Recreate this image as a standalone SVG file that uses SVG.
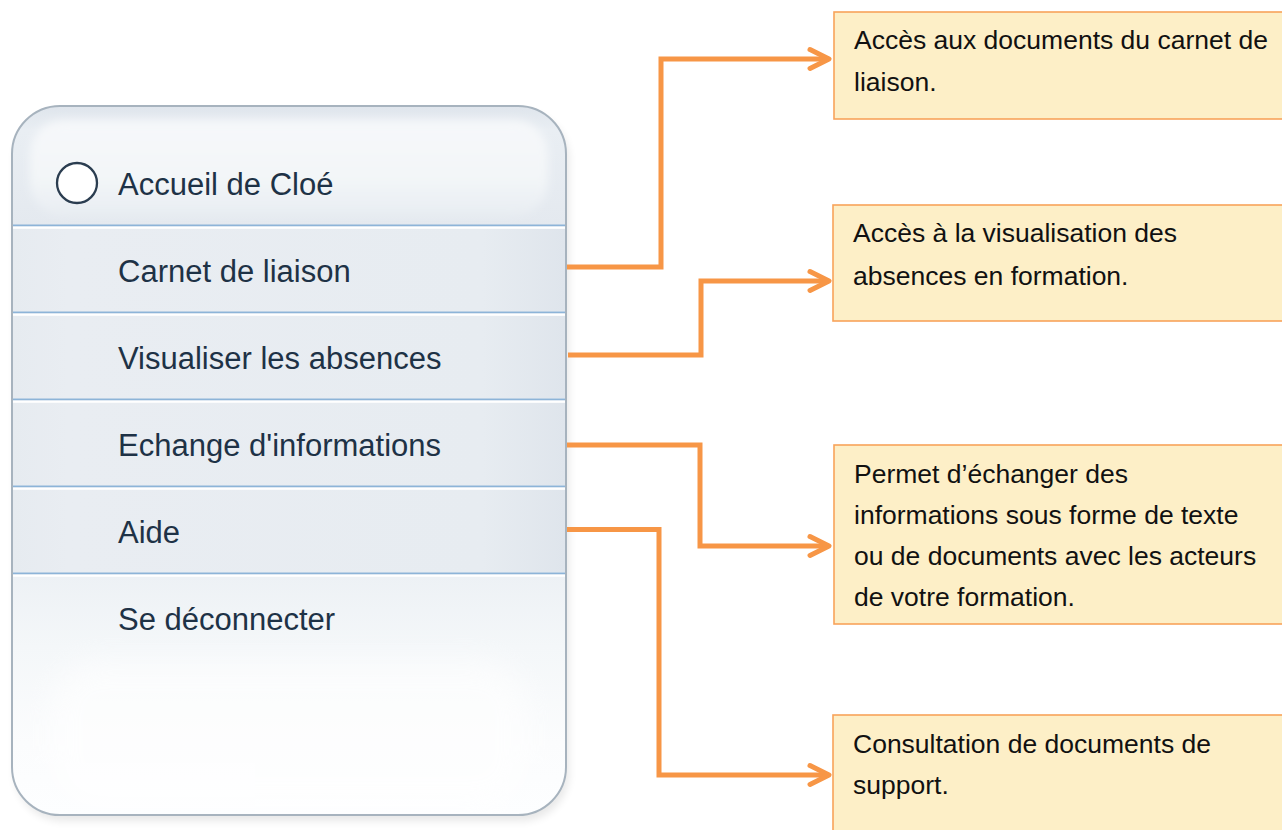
<svg xmlns="http://www.w3.org/2000/svg" width="1282" height="830" viewBox="0 0 1282 830">
  <style>
    .menu { font-family: "Liberation Sans", Arial, sans-serif; font-size: 31px; fill: #1e3246; }
    .desc { font-family: "Liberation Sans", Arial, sans-serif; font-size: 26.5px; fill: #111111; }
    .box { fill: #fdefc7; stroke: #f8a35a; stroke-width: 1.6; }
    .row { fill: url(#rowGrad); }
    .sepBlue { stroke: #8db4d8; stroke-width: 2.2; }
    .sepWhite { stroke: #ffffff; stroke-width: 2.2; }
    .conn { fill: none; stroke: #f79646; stroke-width: 5; marker-end: url(#arr); }
  </style>
  <defs>
    <marker id="arr" markerUnits="userSpaceOnUse" markerWidth="40" markerHeight="40" viewBox="-30 -20 40 40" refX="0" refY="0" orient="auto" overflow="visible">
      <path d="M-19,-9.5 L0,0 L-19,9.5" fill="none" stroke="#f79646" stroke-width="5" stroke-linecap="round" stroke-linejoin="round"/>
    </marker>
    <clipPath id="panelClip">
      <rect x="12" y="106" width="554" height="709" rx="48" ry="48"/>
    </clipPath>
    <linearGradient id="headGrad" x1="0" y1="0" x2="0" y2="1">
      <stop offset="0" stop-color="#dfe5ec"/>
      <stop offset="0.2" stop-color="#e9eef3"/>
      <stop offset="1" stop-color="#e4e9ef"/>
    </linearGradient>
    <linearGradient id="headHi" x1="0" y1="0" x2="0" y2="1">
      <stop offset="0" stop-color="#f6f8fa"/>
      <stop offset="0.6" stop-color="#f3f6f8"/>
      <stop offset="1" stop-color="#e8edf2"/>
    </linearGradient>
    <linearGradient id="rowGrad" x1="0" y1="0" x2="1" y2="0">
      <stop offset="0" stop-color="#e6ebf0"/>
      <stop offset="0.1" stop-color="#e9edf2"/>
      <stop offset="0.85" stop-color="#e7ecf1"/>
      <stop offset="1" stop-color="#dfe5ec"/>
    </linearGradient>
    <linearGradient id="bottomGrad" x1="0" y1="0" x2="0" y2="1">
      <stop offset="0" stop-color="#edf1f5"/>
      <stop offset="0.3" stop-color="#f4f7f9"/>
      <stop offset="0.7" stop-color="#fbfcfd"/>
      <stop offset="1" stop-color="#fdfeff"/>
    </linearGradient>
    <filter id="blur12" x="-20%" y="-20%" width="140%" height="140%">
      <feGaussianBlur stdDeviation="14"/>
    </filter>
    <filter id="blur4" x="-10%" y="-10%" width="120%" height="120%">
      <feGaussianBlur stdDeviation="4"/>
    </filter>
  </defs>

  <rect x="0" y="0" width="1282" height="830" fill="#ffffff"/>

  <!-- Menu panel -->
  <g id="panel">
    <rect x="15" y="112" width="554" height="709" rx="48" fill="#000000" opacity="0.09" filter="url(#blur4)"/>
    <rect x="12" y="106" width="554" height="709" rx="48" fill="#eaeef3"/>
    <g clip-path="url(#panelClip)">
      <rect x="12" y="106" width="554" height="120" fill="url(#headGrad)"/>
      <rect x="30" y="120" width="518" height="96" rx="34" fill="url(#headHi)" filter="url(#blur4)"/>
      <rect x="12" y="575" width="554" height="240" fill="url(#bottomGrad)"/>
      <rect x="50" y="660" width="478" height="150" rx="50" fill="#ffffff" opacity="0.6" filter="url(#blur12)"/>
    </g>
    <rect x="12" y="106" width="554" height="709" rx="48" fill="none" stroke="#a7b3be" stroke-width="2"/>
  </g>

  <g id="item-accueil">
    <circle cx="77" cy="183" r="20" fill="#ffffff" stroke="#2b3d50" stroke-width="2.3"/>
    <text class="menu" x="118" y="195">Accueil de Cloé</text>
  </g>
  <g id="item-carnet">
    <line class="sepBlue" x1="13" y1="225.5" x2="565" y2="225.5"/>
    <line class="sepWhite" x1="13" y1="227.7" x2="565" y2="227.7"/>
    <rect class="row" x="13" y="229" width="552" height="82"/>
    <text class="menu" x="118" y="282">Carnet de liaison</text>
  </g>
  <g id="item-absences">
    <line class="sepBlue" x1="13" y1="312.5" x2="565" y2="312.5"/>
    <line class="sepWhite" x1="13" y1="314.7" x2="565" y2="314.7"/>
    <rect class="row" x="13" y="316" width="552" height="82"/>
    <text class="menu" x="118" y="369">Visualiser les absences</text>
  </g>
  <g id="item-echange">
    <line class="sepBlue" x1="13" y1="399.5" x2="565" y2="399.5"/>
    <line class="sepWhite" x1="13" y1="401.7" x2="565" y2="401.7"/>
    <rect class="row" x="13" y="403" width="552" height="82"/>
    <text class="menu" x="118" y="456">Echange d'informations</text>
  </g>
  <g id="item-aide">
    <line class="sepBlue" x1="13" y1="486.5" x2="565" y2="486.5"/>
    <line class="sepWhite" x1="13" y1="488.7" x2="565" y2="488.7"/>
    <rect class="row" x="13" y="490" width="552" height="82"/>
    <text class="menu" x="118" y="543">Aide</text>
  </g>
  <g id="item-deconnecter">
    <line class="sepBlue" x1="13" y1="573.5" x2="565" y2="573.5"/>
    <line class="sepWhite" x1="13" y1="575.7" x2="565" y2="575.7"/>
    <text class="menu" x="118" y="630">Se déconnecter</text>
  </g>

  <!-- Connectors -->
  <g id="connectors">
    <path class="conn" d="M567,267 L661,267 L661,59 L829,59"/>
    <path class="conn" d="M568,355 L701,355 L701,281 L829,281"/>
    <path class="conn" d="M567,445 L700,445 L700,546 L829,546"/>
    <path class="conn" d="M567,529.5 L659,529.5 L659,775 L829,775"/>
  </g>

  <!-- Description boxes -->
  <g id="box-carnet">
    <rect class="box" x="834" y="12" width="460" height="107"/>
    <text class="desc" x="854" y="49">Accès aux documents du carnet de</text>
    <text class="desc" x="854" y="91">liaison.</text>
  </g>
  <g id="box-absences">
    <rect class="box" x="833" y="205" width="460" height="116"/>
    <text class="desc" x="853" y="242">Accès à la visualisation des</text>
    <text class="desc" x="853" y="285">absences en formation.</text>
  </g>
  <g id="box-echange">
    <rect class="box" x="834" y="445" width="460" height="179"/>
    <text class="desc" x="854" y="483">Permet d’échanger des</text>
    <text class="desc" x="854" y="524">informations sous forme de texte</text>
    <text class="desc" x="854" y="565">ou de documents avec les acteurs</text>
    <text class="desc" x="854" y="606">de votre formation.</text>
  </g>
  <g id="box-aide">
    <rect class="box" x="833" y="715" width="460" height="130"/>
    <text class="desc" x="853" y="753">Consultation de documents de</text>
    <text class="desc" x="853" y="794">support.</text>
  </g>
</svg>
